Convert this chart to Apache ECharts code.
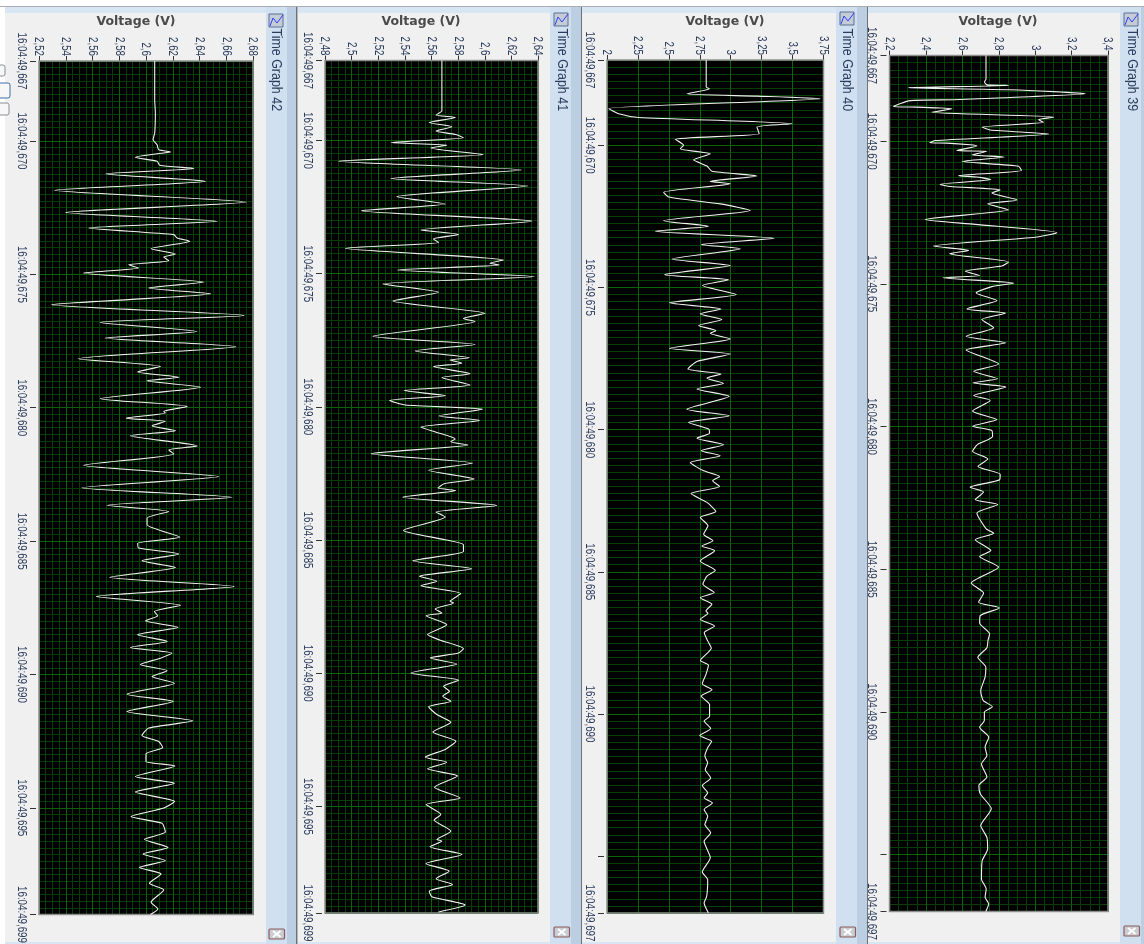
<!DOCTYPE html>
<html><head><meta charset="utf-8">
<style>html,body{margin:0;padding:0;background:#fff}#c{width:1144px;height:944px}</style>
<script src="https://cdn.jsdelivr.net/npm/echarts@6/dist/echarts.min.js"></script>
</head><body><div id="c"></div>
<script>
// --- Time Graph 42 ---
const time42=[0,1.45,1.95,2.7,2.95,3.14,3.33,3.41,3.48,3.61,3.76,3.91,4.03,4.23,4.51,4.85,5.29,5.68,6.01,6.26,6.51,6.64,6.76,7.04,7.24,7.35,7.49,7.64,7.76,7.95,8.29,8.51,8.73,9.14,9.54,9.8,10.14,10.39,10.71,11.16,11.45,11.66,11.86,11.99,12.23,12.66,12.95,13.14,13.2,13.39,13.51,13.68,13.86,14.05,14.43,14.58,14.73,15.16,15.58,16,16.36,16.66,16.89,17.14,17.39,17.85,18.08,18.26,18.48,18.74,18.99,19.36,19.7,20.08,20.41,20.64,20.8,20.99,21.23,21.51,21.76,21.99,22.2,22.39,22.63,22.86,23.08,23.33,23.74,24.01,24.39,24.74,25.01,25.29,25.51,25.74,25.98,26.26,26.43,26.83,27.08,27.41,27.76,28.01,28.33,28.58,28.91,29.18,29.49,29.73,29.98,30.24,30.48,30.83,31.08,31.54,31.79,32];
const volt42=[2.6065,2.6065,2.607,2.6065,2.6053,2.6083,2.6095,2.6183,2.6083,2.592,2.6083,2.6103,2.6358,2.5695,2.6445,2.5315,2.675,2.54,2.6533,2.557,2.6208,2.6233,2.6328,2.6038,2.622,2.6133,2.617,2.587,2.5945,2.5533,2.6433,2.602,2.6483,2.5295,2.6733,2.5658,2.6383,2.5695,2.667,2.5495,2.6108,2.5938,2.6245,2.6008,2.6408,2.5658,2.6308,2.6133,2.6145,2.5853,2.6145,2.6045,2.622,2.5883,2.6383,2.617,2.6208,2.5533,2.6545,2.552,2.6645,2.5708,2.617,2.6008,2.6008,2.6253,2.5938,2.5945,2.6245,2.597,2.622,2.5728,2.6658,2.5628,2.6258,2.6063,2.6088,2.5995,2.624,2.5938,2.6158,2.5883,2.6195,2.6108,2.5958,2.6158,2.6045,2.6213,2.5858,2.6203,2.5858,2.635,2.602,2.597,2.6095,2.6125,2.6,2.6,2.6215,2.592,2.6213,2.592,2.6213,2.6133,2.5888,2.612,2.6145,2.5988,2.6165,2.5978,2.6145,2.595,2.6113,2.6025,2.6133,2.6038,2.6088,2.6033];
const voltTicks42=[2.52,2.54,2.56,2.58,2.6,2.62,2.64,2.66,2.68];
const timeTicks42=[0,3,8,13,18,23,28,32];
const timeLabels42=['16:04:49,667','16:04:49,670','16:04:49,675','16:04:49,680','16:04:49,685','16:04:49,690','16:04:49,695','16:04:49,699'];
// --- Time Graph 41 ---
const time41=[0,1.89,2.05,2.14,2.33,2.49,2.65,2.78,2.9,3.08,3.18,3.28,3.53,3.78,4.11,4.43,4.71,5.11,5.39,5.64,6.03,6.36,6.53,6.7,6.83,7.05,7.49,7.61,7.68,7.86,8.11,8.39,8.7,9.03,9.49,9.68,9.8,10.35,10.66,10.9,11.16,11.24,11.36,11.49,11.76,11.9,12.18,12.39,12.58,12.76,12.93,13.09,13.34,13.51,13.76,13.96,14.21,14.31,14.43,14.76,15.11,15.38,15.71,15.89,16.05,16.14,16.39,16.7,16.95,17.14,17.64,17.99,18.18,18.43,18.78,19.08,19.36,19.55,19.71,20.01,20.3,20.36,20.59,20.74,20.84,21.18,21.55,21.76,22.08,22.24,22.43,22.65,22.99,23.26,23.49,23.68,23.86,24.05,24.26,24.55,24.84,25.21,25.55,25.86,26.15,26.34,26.59,26.86,27.28,27.68,27.93,28.3,28.51,28.93,29.24,29.3,29.51,29.8,30.15,30.43,30.71,30.93,31.18,31.39,31.7,31.96];
const volt41=[2.5678,2.5678,2.5633,2.5778,2.5583,2.5753,2.5633,2.5783,2.584,2.5295,2.5715,2.5595,2.599,2.4903,2.6273,2.5295,2.6323,2.534,2.5703,2.5073,2.6353,2.552,2.5803,2.5615,2.5653,2.4953,2.614,2.604,2.611,2.5345,2.6373,2.5235,2.5653,2.531,2.6003,2.584,2.5928,2.516,2.5928,2.5478,2.5885,2.574,2.5828,2.5615,2.589,2.5678,2.589,2.5395,2.5703,2.5285,2.5403,2.5983,2.5658,2.596,2.552,2.564,2.5778,2.5745,2.5873,2.5148,2.591,2.5578,2.592,2.5695,2.5648,2.5783,2.5385,2.609,2.5633,2.5703,2.539,2.5703,2.584,2.584,2.546,2.5903,2.551,2.564,2.552,2.582,2.574,2.5765,2.5628,2.5678,2.556,2.5715,2.557,2.5665,2.584,2.5803,2.559,2.579,2.5445,2.5803,2.569,2.5735,2.5685,2.5745,2.5578,2.564,2.5745,2.561,2.5783,2.5703,2.5553,2.5715,2.557,2.5795,2.5623,2.5815,2.556,2.567,2.562,2.5745,2.564,2.5678,2.559,2.5828,2.5558,2.5733,2.5635,2.5758,2.5583,2.5603,2.5853,2.5653];
const voltTicks41=[2.48,2.5,2.52,2.54,2.56,2.58,2.6,2.62,2.64];
const timeTicks41=[0,3,8,13,18,23,28,32];
const timeLabels41=['16:04:49,667','16:04:49,670','16:04:49,675','16:04:49,680','16:04:49,685','16:04:49,690','16:04:49,695','16:04:49,699'];
// --- Time Graph 40 ---
const time40=[0,.95,1.01,1.19,1.27,1.36,1.71,1.89,2.02,2.24,2.36,2.59,2.79,3,3.12,3.3,3.51,3.73,3.91,4.08,4.27,4.35,4.65,4.82,5.06,5.29,5.65,5.85,6.02,6.27,6.49,6.64,7,7.23,7.55,7.73,7.93,8.25,8.54,8.76,8.93,9.13,9.34,9.52,9.61,9.81,10.14,10.34,10.6,10.87,11.04,11.19,11.37,11.57,11.83,12.28,12.51,12.75,12.98,13.13,13.3,13.53,13.74,13.92,14.16,14.45,14.65,14.8,15,15.25,15.56,15.88,16.09,16.38,16.68,16.91,17.09,17.26,17.62,17.95,18.15,18.44,18.73,18.91,19.14,19.38,19.46,19.67,19.91,20.14,20.43,20.69,21.12,21.28,21.61,21.94,22.15,22.37,22.67,23.08,23.25,23.51,23.76,23.96,24.19,24.48,24.72,24.95,25.25,25.52,25.77,25.95,26.13,26.36,26.6,26.89,27.18,27.48,28.06,28.56,28.83,29.41,29.65,30];
const volt40=[2.802,2.802,2.827,2.646,3.212,3.723,2.013,2.094,2.256,3.494,3.212,3.23,2.552,2.619,2.592,2.835,2.7,2.808,2.848,3.212,2.835,2.996,2.458,2.498,2.915,3.158,2.458,2.821,2.39,3.352,2.762,3.077,2.525,2.996,2.466,2.983,2.773,3.045,2.504,2.921,2.754,2.929,2.74,2.88,2.835,2.996,2.504,2.996,2.727,2.654,2.921,2.808,2.942,2.727,2.988,2.646,2.988,2.66,2.821,2.829,2.727,2.942,2.762,2.915,2.673,2.781,2.91,2.854,2.91,2.679,2.808,2.88,2.754,2.816,2.781,2.856,2.767,2.87,2.754,2.875,2.808,2.775,2.867,2.754,2.848,2.8,2.816,2.754,2.87,2.786,2.814,2.843,2.755,2.82,2.8,2.77,2.849,2.761,2.829,2.829,2.785,2.838,2.75,2.846,2.814,2.791,2.814,2.794,2.838,2.77,2.814,2.785,2.852,2.785,2.814,2.791,2.838,2.785,2.835,2.77,2.814,2.806,2.785,2.82];
const voltTicks40=[2,2.25,2.5,2.75,3,3.25,3.5,3.75];
const timeTicks40=[0,3,8,13,18,23,28,30];
const timeLabels40=['16:04:49,667','16:04:49,670','16:04:49,675','16:04:49,680','16:04:49,685','16:04:49,690','','16:04:49,697'];
// --- Time Graph 39 ---
const time39=[0,.82,.93,1.03,1.05,1.13,1.2,1.34,1.48,1.55,1.58,1.79,1.81,1.87,1.99,2.16,2.25,2.34,2.51,2.61,2.75,2.98,3.06,3.07,3.13,3.17,3.33,3.36,3.48,3.56,3.71,3.88,4.03,4.21,4.26,4.35,4.52,4.59,4.71,4.82,5.06,5.2,5.41,5.75,5.92,6.21,6.37,6.68,6.83,6.95,7.24,7.38,7.56,7.71,7.79,7.98,8.1,8.32,8.59,8.88,9.03,9.25,9.54,9.84,10.07,10.32,10.81,11.07,11.33,11.47,11.62,11.92,12.09,12.46,12.76,12.99,13.14,13.35,13.63,13.87,14.14,14.4,14.68,14.87,15.13,15.3,15.56,15.74,16.04,16.59,16.74,16.97,17.35,17.56,17.93,18.49,18.84,19.16,19.36,19.63,19.89,20.27,20.5,20.76,21.09,21.44,21.79,22.26,22.61,22.82,23.01,23.31,23.54,23.89,24.24,24.53,24.83,25.29,25.58,25.88,26.4,26.99,27.4,27.81,28.22,28.86,29.21,29.5,29.73,30];
const volt39=[2.73,2.73,2.722,2.735,2.854,2.304,2.863,3.275,2.827,2.552,2.314,2.222,2.35,2.543,2.433,3.101,3.019,3.046,2.708,2.753,3.074,2.451,2.42,2.515,2.643,2.68,2.57,2.735,2.653,2.83,2.598,2.909,2.924,2.579,2.68,2.757,2.478,2.533,2.808,2.762,2.9,2.739,2.854,2.396,2.671,3.12,3.001,2.442,2.634,2.53,2.854,2.817,2.616,2.695,2.493,2.882,2.762,2.676,2.79,2.625,2.836,2.707,2.772,2.621,2.839,2.621,2.799,2.662,2.794,2.658,2.839,2.662,2.753,2.656,2.79,2.656,2.762,2.766,2.684,2.656,2.74,2.686,2.808,2.805,2.643,2.717,2.671,2.795,2.68,2.731,2.772,2.671,2.757,2.695,2.799,2.649,2.717,2.689,2.803,2.698,2.695,2.75,2.741,2.735,2.685,2.729,2.725,2.701,2.715,2.765,2.721,2.721,2.695,2.745,2.725,2.735,2.705,2.735,2.691,2.699,2.759,2.701,2.735,2.739,2.709,2.705,2.731,2.725,2.745,2.729];
const voltTicks39=[2.2,2.4,2.6,2.8,3,3.2,3.4];
const timeTicks39=[0,3,8,13,18,23,28,30];
const timeLabels39=['16:04:49,667','16:04:49,670','16:04:49,675','16:04:49,680','16:04:49,685','16:04:49,690','','16:04:49,697'];

const axisTitle='Voltage (V)';
const panels=[
 {title:'Time Graph 42',t:time42,v:volt42,vt:voltTicks42,tt:timeTicks42,tl:timeLabels42,vMin:2.52,vMax:2.68,tMax:32,minor:.005,
  box:[39,61,214,853.5],chrome:[5,266,287,296],nameX:136,titleX:276,icon:[269,14],close:[269,929]},
 {title:'Time Graph 41',t:time41,v:volt41,vt:voltTicks41,tt:timeTicks41,tl:timeLabels41,vMin:2.48,vMax:2.64,tMax:32,minor:.005,
  box:[325,60.5,213,852.5],chrome:[298,550,571,581],nameX:421,titleX:562,icon:[554,13],close:[554,927]},
 {title:'Time Graph 40',t:time40,v:volt40,vt:voltTicks40,tt:timeTicks40,tl:timeLabels40,vMin:2,vMax:3.75,tMax:30,minor:0,
  box:[607,60,216.5,853],chrome:[582,836,857,867],nameX:725,titleX:847,icon:[840,12],close:[840,927]},
 {title:'Time Graph 39',t:time39,v:volt39,vt:voltTicks39,tt:timeTicks39,tl:timeLabels39,vMin:2.2,vMax:3.4,tMax:30,minor:.05,
  box:[889.5,55.5,218.5,856],chrome:[868,1120,1141,1151],nameX:998,titleX:1132,icon:[1124,13],close:[1124,926]}
];

const MAJOR='#0a640a', MINOR='#063f06', TXT='#2b3c5c', SANS='"Liberation Sans",sans-serif';
const grids=[],xAxes=[],yAxes=[],series=[],gfx=[];
const rect=(x,y,w,h,fill,extra)=>({type:'rect',silent:true,z:-10,shape:{x,y,width:w,height:h,...(extra||{})},style:{fill}});
gfx.push(rect(0,6,1144,1,'#a9adb2'));
panels.forEach((p,i)=>{
  const [l,t,w,h]=p.box, [g0,g1,b1,d1]=p.chrome;
  gfx.push(rect(g0,7,g1-g0,6,'#d8e5f3'));
  gfx.push(rect(g0,13,g1-g0,929,'#f0f0f0'));
  gfx.push(rect(g0,942,g1-g0,2,'#d8e5f3'));
  gfx.push(rect(g1,7,b1-g1,937,'#d0e0f0'));
  gfx.push(rect(b1,7,d1-b1,937,'#bccfe2'));
  gfx.push(rect(d1,7,1.5,937,'#6d7278'));
  gfx.push({type:'text',silent:true,z:5,x:p.titleX,y:28.5,rotation:-Math.PI/2,scaleX:.83,
    style:{text:p.title,fill:TXT,font:'15px '+SANS,textAlign:'left',textVerticalAlign:'middle'}});
  gfx.push({type:'rect',silent:true,z:5,shape:{x:p.icon[0],y:p.icon[1],width:14,height:13},style:{fill:'#c5ccd6',stroke:'#5b6f95',lineWidth:1}});
  gfx.push({type:'polyline',silent:true,z:6,shape:{points:[[p.icon[0]+1,p.icon[1]+12],[p.icon[0]+4,p.icon[1]+4],[p.icon[0]+8,p.icon[1]+9],[p.icon[0]+14,p.icon[1]+1]]},style:{stroke:'#2a3cff',fill:'none',lineWidth:1}});
  gfx.push({type:'rect',silent:true,z:5,shape:{x:p.close[0],y:p.close[1],width:15.5,height:10,r:1},style:{fill:'#c9cdd3',stroke:'#8d5a5a',lineWidth:1.2}});
  gfx.push({type:'polyline',silent:true,z:6,shape:{points:[[p.close[0]+4,p.close[1]+2],[p.close[0]+11.5,p.close[1]+8]]},style:{stroke:'#fff',fill:'none',lineWidth:1.8}});
  gfx.push({type:'polyline',silent:true,z:6,shape:{points:[[p.close[0]+11.5,p.close[1]+2],[p.close[0]+4,p.close[1]+8]]},style:{stroke:'#fff',fill:'none',lineWidth:1.8}});
  gfx.push({type:'text',silent:true,z:5,x:p.nameX,y:22,
    style:{text:axisTitle,fill:'#4a4a4a',font:'600 12.5px "DejaVu Sans",sans-serif',textAlign:'center',textVerticalAlign:'middle'}});
  gfx.push({type:'rect',silent:true,z:3,shape:{x:l,y:t,width:w,height:h},style:{fill:'none',stroke:'#8e8e8e',lineWidth:1.5}});

  grids.push({left:l,top:t,width:w,height:h,show:true,backgroundColor:'#000',borderWidth:0,containLabel:false,outerBoundsMode:'none'});
  const vLabel=v=>String(+(+v).toFixed(2)).replace('.',',');
  const tLabel=v=>{const k=p.tt.findIndex(a=>Math.abs(a-v)<1e-6);return k<0?'':p.tl[k];};
  xAxes.push({gridIndex:i,type:'value',position:'top',min:p.vMin,max:p.vMax,offset:2,z:2,
    axisLine:{show:false},
    axisTick:{show:true,length:5,customValues:p.vt,lineStyle:{color:'#333'}},
    axisLabel:{show:true,rotate:-90,margin:3,customValues:p.vt,showMinLabel:true,showMaxLabel:true,formatter:vLabel,color:TXT,fontFamily:'Liberation Sans',fontSize:13},
    splitLine:{show:true,lineStyle:{color:MAJOR,width:1}}});
  yAxes.push({gridIndex:i,type:'value',position:'left',inverse:true,min:0,max:p.tMax,offset:3,z:2,
    axisLine:{show:false},
    axisTick:{show:true,length:6,customValues:p.tt,lineStyle:{color:'#333'}},
    axisLabel:{show:true,rotate:-90,margin:8,customValues:p.tt.filter((_,k)=>p.tl[k]),showMinLabel:true,showMaxLabel:true,formatter:tLabel,color:TXT,fontFamily:'Liberation Sans',fontSize:13},
    splitLine:{show:true,lineStyle:{color:MAJOR,width:1}}});
  xAxes.push({gridIndex:i,type:'value',position:'bottom',min:p.vMin,max:p.vMax,interval:p.minor||undefined,z:1,silent:true,
    axisLine:{show:false},axisTick:{show:false},axisLabel:{show:false},
    splitLine:{show:!!p.minor,lineStyle:{color:MINOR,width:1}}});
  yAxes.push({gridIndex:i,type:'value',position:'right',inverse:true,min:0,max:p.tMax,interval:.25,z:1,silent:true,
    axisLine:{show:false},axisTick:{show:false},axisLabel:{show:false},
    splitLine:{show:true,lineStyle:{color:MINOR,width:1}}});
  series.push({type:'line',xAxisIndex:i*2,yAxisIndex:i*2,data:p.t.map((tv,k)=>[p.v[k],tv]),
    showSymbol:false,symbol:'none',smooth:.2,animation:false,clip:true,z:5,
    lineStyle:{color:'#f2f2f2',width:1.1}});
});
[[-6,65,11,11,'#8a8f96'],[-4,83,14,15,'#3b6ea8'],[-4,103,13,12,'#8a8f96']].forEach(a=>{
  gfx.push({type:'rect',silent:true,z:5,shape:{x:a[0],y:a[1],width:a[2],height:a[3],r:2},style:{fill:'#f7f7f7',stroke:a[4],lineWidth:1}});
});
const chart=echarts.init(document.getElementById('c'),null,{renderer:'canvas'});
chart.setOption({animation:false,backgroundColor:'#fff',grid:grids,xAxis:xAxes,yAxis:yAxes,series,graphic:{elements:gfx},tooltip:{show:false}});
const zr=chart.getZr();
const squeeze=el=>{
  if(el.style&&typeof el.style.text==='string'&&/^(16:04|\d(,\d+)?$)/.test(el.style.text)&&el.type!=='tspan'){el.scaleX=.75;el.markRedraw&&el.markRedraw();}
  if(el.children)el.children().forEach(squeeze);
};
zr.storage.getRoots().forEach(squeeze);
zr.refreshImmediately();
</script></body></html>
